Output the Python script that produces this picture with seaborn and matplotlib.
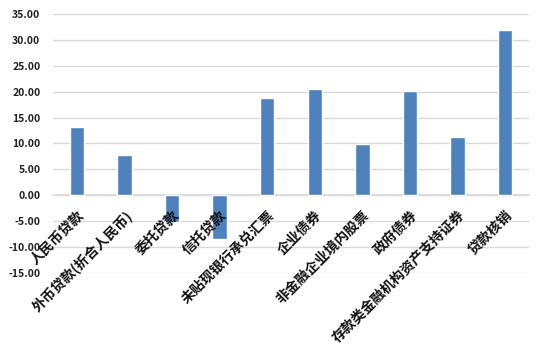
import matplotlib
matplotlib.use("Agg")
import matplotlib.pyplot as plt
import seaborn as sns
import pandas as pd

categories = ["人民币贷款", "外币贷款(折合人民币)", "委托贷款", "信托贷款", "未贴现银行承兑汇票",
              "企业债券", "非金融企业境内股票", "政府债券", "存款类金融机构资产支持证券", "贷款核销"]
values = [13.1, 7.7, -5.2, -8.5, 18.7, 20.5, 9.9, 20.2, 11.3, 31.9]
yticks = [35, 30, 25, 20, 15, 10, 5, 0, -5, -10, -15]

sns.set_theme(style="white")
plt.rcParams['font.family'] = ['Noto Sans CJK SC', 'DejaVu Sans']

df = pd.DataFrame({"cat": categories, "val": values})

fig = plt.figure(figsize=(5.44, 3.52), dpi=100)
ax = fig.add_axes([53/544, 1-273/352, 476/544, (273-14)/352])
sns.barplot(data=df, x="cat", y="val", color="#4F81BD", saturation=1, width=0.3, ax=ax, zorder=3)
ax.set_ylim(-15, 35)
ax.set_xlim(-0.5, len(categories)-0.5)
ax.set_yticks(yticks)
ax.set_yticklabels([f"{t:.2f}" for t in yticks], fontsize=7.5, fontweight="bold", color="#222222")
ax.yaxis.grid(True, color="#d9d9d9", linewidth=1)
ax.set_axisbelow(True)
ax.xaxis.set_zorder(5)
for s in ["left", "right", "top"]:
    ax.spines[s].set_visible(False)
ax.spines["bottom"].set_position(("data", 0))
ax.spines["bottom"].set_color("#d9d9d9")
ax.spines["bottom"].set_zorder(0.5)
ax.set_xlabel("")
ax.set_ylabel("")
ax.tick_params(axis="x", length=0, pad=9)
ax.tick_params(axis="y", length=0, pad=9)
ax.set_xticks(range(len(categories)))
ax.set_xticklabels(categories, rotation=45, ha="right", rotation_mode="anchor",
                   fontsize=10, fontweight="bold", color="#111111")
fig.savefig("out.png", dpi=100)
